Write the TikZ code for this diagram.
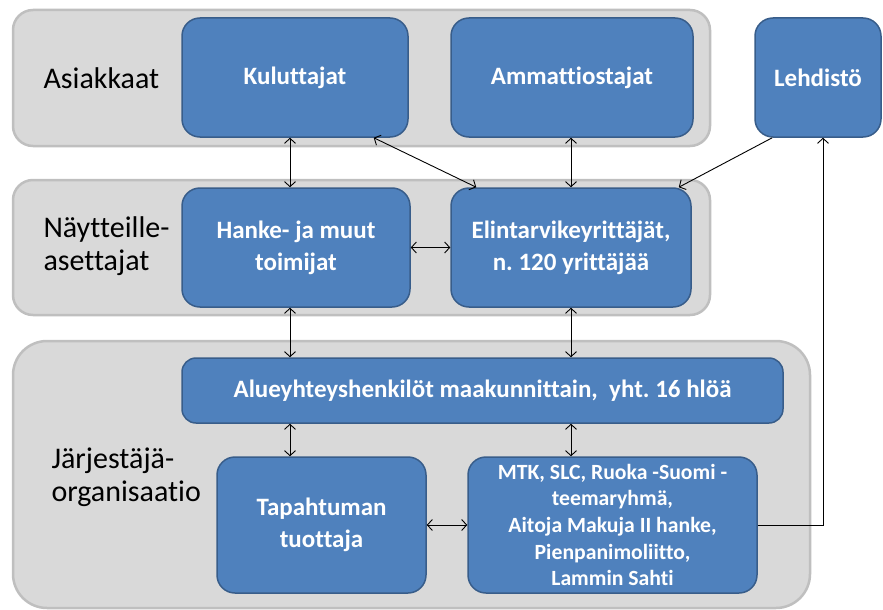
\documentclass[tikz,border=0pt]{standalone}
\usepackage{fontspec}
\setmainfont{Carlito}[RawFeature=-liga]
\usetikzlibrary{calc,arrows.meta}
\definecolor{boxblue}{HTML}{4F81BD}
\definecolor{boxline}{HTML}{385D8A}
\definecolor{bandfill}{HTML}{D9D9D9}
\definecolor{bandline}{HTML}{BFBFBF}
\frenchspacing
\begin{document}
\begin{tikzpicture}[x=1pt,y=-1pt,
  >={Straight Barb[length=5pt,width=11pt]},
  band/.style={draw=bandline,line width=2.5pt,fill=bandfill,rounded corners=20pt},
  actor/.style={draw=boxline,line width=1.5pt,fill=boxblue,rounded corners=18pt,
    text=white,font=\fontsize{25}{32}\selectfont\bfseries,align=center,inner sep=0pt},
  grouplabel/.style={font=\fontsize{30}{33}\selectfont,align=left,anchor=west},
  link/.style={<->,line width=0.9pt}]
\useasboundingbox (0,0) rectangle (883,610);

% Background bands
\draw[band] (13,10) rectangle (710,146);
\draw[band] (13,180) rectangle (710,315);
\draw[band,rounded corners=34pt] (13,341) rectangle (810,608);

% Band titles
\node[grouplabel] (asi) at (40,78) {Asiakkaat};
\node[grouplabel] (nay) at (40,246) {Näytteille-\\asettajat};
\node[grouplabel] (jar) at (48,477) {Järjestäjä-\\organisaatio};

% Customers
\node[actor,minimum width=226pt,minimum height=119pt] (kul) at (295,77.5) {Kuluttajat};
\node[actor,minimum width=242pt,minimum height=119pt] (amm) at (572,77.5) {Ammattiostajat};
\node[actor,minimum width=126pt,minimum height=119pt] (leh) at (818,77.5) {Lehdistö};

% Exhibitors
\node[actor,minimum width=228pt,minimum height=119pt] (han) at (296,247.5) {Hanke- ja muut\\toimijat};
\node[actor,minimum width=240pt,minimum height=119pt] (eli) at (571,247.5) {Elintarvikeyrittäjät,\\n. 120 yrittäjää};

% Organiser
\node[actor,rounded corners=14pt,minimum width=601pt,minimum height=65pt] (alu) at (482.5,390.5)
  {Alueyhteyshenkilöt maakunnittain,\ \ yht. 16 hlöä};
\node[actor,minimum width=209pt,minimum height=136pt] (tap) at (321.5,525) {Tapahtuman\\tuottaja};
\node[actor,minimum width=289pt,minimum height=136pt,
  font=\fontsize{21.7}{26.7}\selectfont\bfseries] (mtk) at (612.5,525)
  {MTK, SLC, Ruoka -Suomi -\\teemaryhmä,\\Aitoja Makuja II hanke,\\Pienpanimoliitto,\\Lammin Sahti};

% Connectors
\draw[link] (kul.south -| 290,0) -- (han.north -| 290,0);
\draw[link] (amm.south -| eli.south) -- (eli.north);
\draw[link] ([xshift=-35pt]kul.south east) -- ([xshift=26pt]eli.north west);
\draw[->,line width=0.9pt] ([xshift=18pt]leh.south west) -- ([xshift=-13pt]eli.north east);
\draw[link] (han.east) -- (eli.west);
\draw[link] (han.south -| 290,0) -- (alu.north -| 290,0);
\draw[link] (eli.south) -- (alu.north -| eli.south);
\draw[link] (alu.south -| 290,0) -- (tap.north -| 290,0);
\draw[link] (alu.south -| eli.south) -- (mtk.north -| eli.south);
\draw[link] (tap.east) -- (mtk.east -| mtk.west);
\draw[->,line width=0.9pt] (mtk.east) -| ([xshift=5pt]leh.south);
\end{tikzpicture}
\end{document}
